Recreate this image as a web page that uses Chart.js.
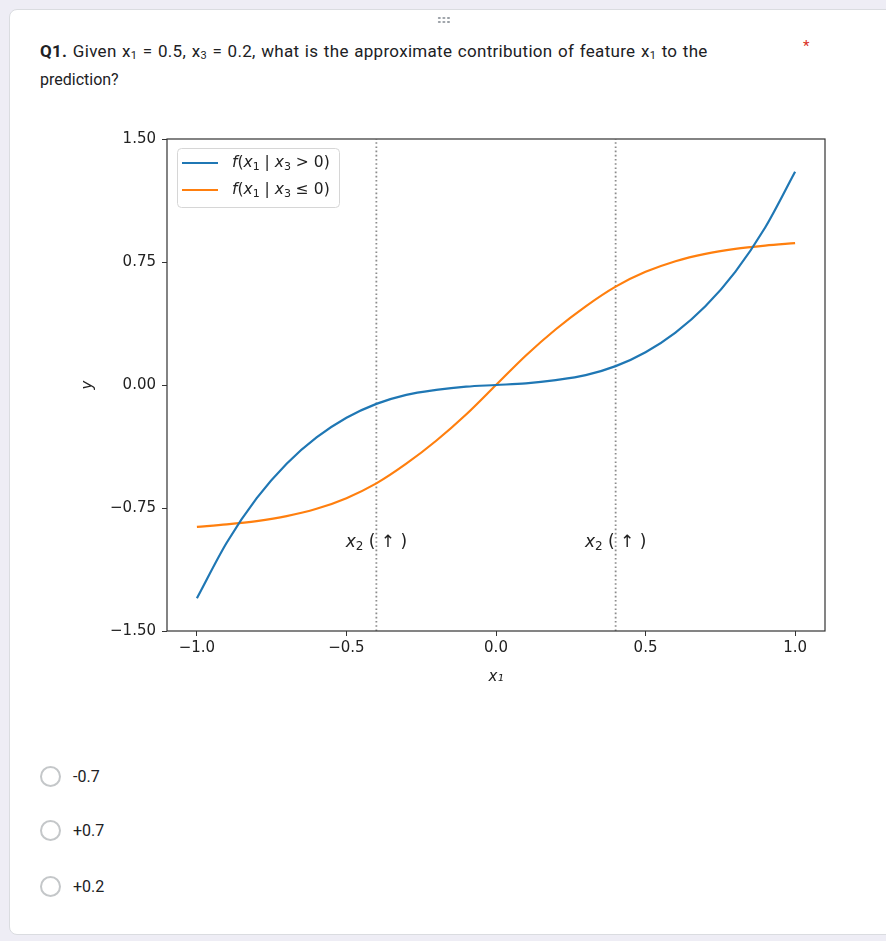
<!DOCTYPE html>
<html>
<head>
<meta charset="utf-8">
<script src="https://cdn.jsdelivr.net/npm/chart.js@4/dist/chart.umd.min.js"></script>
<style>
    body { margin: 0; width: 886px; height: 941px; overflow: hidden; background: #eeedf5; font-family: Roboto, "Noto Sans", sans-serif; }
    .card { position: absolute; left: 9px; top: 9px; width: 900px; height: 924px; background: #fff; border: 1px solid #dadce0; border-radius: 8px; }
    .handle { position: absolute; left: 437px; top: 16px; width: 14px; height: 8px;
        background: radial-gradient(circle, #9aa0a6 1px, transparent 1.3px) 0 0 / 4.6px 4px; }
    .question { position: absolute; left: 40px; top: 37px; width: 760px; font-size: 17px; letter-spacing: 0.3px; word-spacing: 1px; line-height: 28px; color: #202124; }
    .question sub { font-size: 11px; vertical-align: -2px; line-height: 0; }
    .question .p2 { letter-spacing: 0; word-spacing: 0; font-size: 16px; }
    .star { position: absolute; left: 803px; top: 37px; color: #d93025; font-size: 15px; }
    .opt { position: absolute; left: 40px; height: 22px; font-size: 16px; color: #202124; }
    .opt .dot { position: absolute; left: 0; top: 0; width: 17px; height: 17px; border: 2px solid #c4c7c9; border-radius: 50%; }
    .opt span { position: absolute; left: 33px; top: 0; line-height: 21px; white-space: nowrap; }
    #chartBox { position: absolute; left: 0; top: 110px; }
</style>
</head>
<body>
<div class="card"></div>
<div class="handle"></div>
<div class="question"><b>Q1.</b> Given x<sub>1</sub> = 0.5, x<sub>3</sub> = 0.2, what is the approximate contribution of feature x<sub>1</sub> to the<br><span class="p2">prediction?</span></div>
<div class="star">*</div>

<div id="chartBox"><canvas id="lineChart" width="886" height="580"></canvas></div>

<div class="opt" style="top:766px"><div class="dot"></div><span>-0.7</span></div>
<div class="opt" style="top:820px"><div class="dot"></div><span>+0.7</span></div>
<div class="opt" style="top:876px"><div class="dot"></div><span>+0.2</span></div>

<script>
// values, x1 from -1 to 1
var xValues = [-1.0, -0.9, -0.8, -0.7, -0.6, -0.5, -0.4, -0.3, -0.2, -0.1, 0.0,
    0.1, 0.2, 0.3, 0.4, 0.5, 0.6, 0.7, 0.8, 0.9, 1.0];
var blueValues = [-1.30, -0.96, -0.69, -0.48, -0.32, -0.20, -0.115, -0.06, -0.03, -0.01, 0.0,
    0.01, 0.03, 0.06, 0.115, 0.20, 0.32, 0.48, 0.69, 0.96, 1.30];
var orangeValues = [-0.865, -0.85, -0.83, -0.80, -0.755, -0.69, -0.60, -0.48, -0.34, -0.18, 0.0,
    0.18, 0.34, 0.48, 0.60, 0.69, 0.755, 0.80, 0.83, 0.85, 0.865];
var xTicks = [-1.0, -0.5, 0.0, 0.5, 1.0];
var yTicks = [-1.5, -0.75, 0.0, 0.75, 1.5];
var markerX = [-0.4, 0.4];
var markerLabelY = -0.96;

var blue = "#1f77b4";
var orange = "#ff7f0e";
var tickFont = { family: "DejaVu Sans", size: 15 };

function toPoints(xs, ys) {
    var pts = [];
    for (var i = 0; i < xs.length; ++i) {
        pts.push({ x: xs[i], y: ys[i] });
    }
    return pts;
}

function fmt(v, d) {
    return (v < 0 ? "\u2212" : "") + Math.abs(v).toFixed(d);
}

// small helper for matplotlib-like math text: [text, style] with style '' / 'i' / 's'
function drawMath(ctx, parts, x, y, size, align) {
    function font(p) {
        if (p[1] == "i") return "italic " + size + "px 'DejaVu Sans'";
        if (p[1] == "s") return Math.round(size * 0.7) + "px 'DejaVu Sans'";
        return size + "px 'DejaVu Sans'";
    }
    var total = 0;
    parts.forEach(function (p) { ctx.font = font(p); total += ctx.measureText(p[0]).width; });
    var cx = align == "center" ? x - total / 2 : x;
    ctx.textBaseline = "middle";
    ctx.textAlign = "left";
    parts.forEach(function (p) {
        ctx.font = font(p);
        ctx.fillText(p[0], cx, p[1] == "s" ? y + size * 0.25 : y);
        cx += ctx.measureText(p[0]).width;
    });
    return total;
}

var legendItems = [
    { color: blue, parts: [["f", "i"], ["(", ""], ["x", "i"], ["1", "s"], [" | ", ""], ["x", "i"], ["3", "s"], [" > 0)", ""]] },
    { color: orange, parts: [["f", "i"], ["(", ""], ["x", "i"], ["1", "s"], [" | ", ""], ["x", "i"], ["3", "s"], [" \u2264 0)", ""]] }
];
var markerParts = [["x", "i"], ["2", "s"], [" ( \u2191 )", ""]];

var overlay = {
    id: "overlay",
    afterDatasetsDraw: function (chart) {
        var ctx = chart.ctx;
        var a = chart.chartArea;
        var xs = chart.scales.x, ys = chart.scales.y;
        ctx.save();

        // x2 labels next to the dotted lines
        ctx.fillStyle = "#222";
        markerX.forEach(function (m) {
            drawMath(ctx, markerParts, xs.getPixelForValue(m), ys.getPixelForValue(markerLabelY), 17, "center");
        });

        // legend box, upper left
        var lx = a.left + 10, ly = a.top + 9, w = 162, h = 59;
        ctx.fillStyle = "rgba(255,255,255,0.85)";
        ctx.strokeStyle = "#d6d6d6";
        ctx.lineWidth = 1;
        ctx.beginPath();
        ctx.roundRect(lx + 0.5, ly + 0.5, w, h, 4);
        ctx.fill();
        ctx.stroke();
        legendItems.forEach(function (item, i) {
            var yy = ly + 15 + i * 27;
            ctx.strokeStyle = item.color;
            ctx.lineWidth = 2.2;
            ctx.beginPath();
            ctx.moveTo(lx + 5, yy);
            ctx.lineTo(lx + 41, yy);
            ctx.stroke();
            ctx.fillStyle = "#222";
            drawMath(ctx, item.parts, lx + 55, yy, 15.5, "left");
        });

        // axes frame (all four spines)
        ctx.strokeStyle = "#333";
        ctx.lineWidth = 1.2;
        ctx.strokeRect(a.left, a.top, a.right - a.left, a.bottom - a.top);
        ctx.restore();
    }
};

var dotted = {
    showLine: true,
    borderColor: "rgba(120,120,120,0.85)",
    borderWidth: 1.8,
    borderDash: [1.6, 2.6],
    pointRadius: 0
};

new Chart("lineChart", {
    type: "scatter",
    data: {
        datasets: [{
            label: "blue",
            data: toPoints(xValues, blueValues),
            showLine: true,
            borderColor: blue,
            borderWidth: 2.2,
            pointRadius: 0,
            cubicInterpolationMode: "monotone"
        }, {
            label: "orange",
            data: toPoints(xValues, orangeValues),
            showLine: true,
            borderColor: orange,
            borderWidth: 2.2,
            pointRadius: 0,
            cubicInterpolationMode: "monotone"
        }, Object.assign({
            label: "m1",
            data: [{ x: markerX[0], y: yTicks[0] }, { x: markerX[0], y: yTicks[4] }]
        }, dotted), Object.assign({
            label: "m2",
            data: [{ x: markerX[1], y: yTicks[0] }, { x: markerX[1], y: yTicks[4] }]
        }, dotted)]
    },
    options: {
        responsive: false,
        animation: false,
        devicePixelRatio: 1,
        layout: { padding: { left: 0, top: 29, right: 61, bottom: 0 } },
        plugins: {
            legend: { display: false },
            tooltip: { enabled: false }
        },
        scales: {
            x: {
                type: "linear",
                min: -1.1,
                max: 1.1,
                afterBuildTicks: function (scale) {
                    scale.ticks = xTicks.map(function (v) { return { value: v }; });
                },
                afterFit: function (scale) { scale.height = 59; },
                grid: { drawOnChartArea: false, drawTicks: true, tickLength: 5, color: "#333" },
                border: { display: false },
                ticks: { font: tickFont, color: "#222", padding: 3,
                    callback: function (v) { return fmt(v, 1); } },
                title: { display: true, text: "x\u2081", color: "#222", padding: { top: 0, bottom: 4 },
                    font: { family: "DejaVu Sans", size: 15, style: "italic" } }
            },
            y: {
                min: -1.5,
                max: 1.5,
                afterBuildTicks: function (scale) {
                    scale.ticks = yTicks.map(function (v) { return { value: v }; });
                },
                afterFit: function (scale) { scale.width = 167; },
                grid: { drawOnChartArea: false, drawTicks: true, tickLength: 5, color: "#333" },
                border: { display: false },
                ticks: { font: tickFont, color: "#222", padding: 6,
                    callback: function (v) { return fmt(v, 2); } },
                title: { display: true, text: "y", color: "#222", padding: { top: 79, bottom: 0 },
                    font: { family: "DejaVu Sans", size: 15, style: "italic" } }
            }
        }
    },
    plugins: [overlay]
});
</script>
</body>
</html>
